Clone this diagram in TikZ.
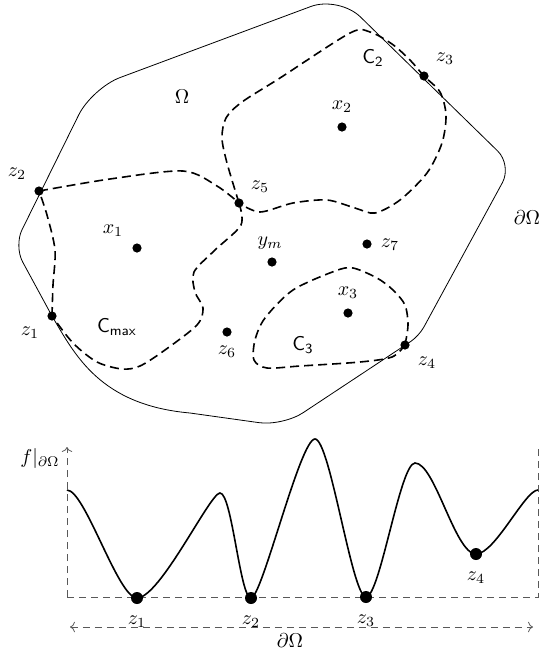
\documentclass[tikz,border=0pt]{standalone}
\usepackage{amsmath}
\usepackage{amssymb}
\usepackage{tikz}
\usetikzlibrary{arrows,arrows.meta,positioning,calc}

\begin{document}
\begin{tikzpicture}[x=0.5pt,y=-0.5pt,
    dot/.style={circle,fill,inner sep=0pt,minimum size=4.6pt},
    bigdot/.style={circle,fill,inner sep=0pt,minimum size=6pt},
    region/.style={thick,dash pattern=on 4.5pt off 2.5pt},
    guide/.style={black!65,dash pattern=on 3.5pt off 2.5pt}]
  \useasboundingbox (0,0) rectangle (543,655);

  % Points of the domain.
  \foreach \name/\x/\y in {
      z1/52/316, z2/39/191, z3/424/76, z4/405/345,
      z5/239/203, z6/227/332, z7/367/244,
      x1/137/248, x2/342/127, x3/348/313, ym/272/262
  }{
      \node[dot] (\name) at (\x,\y) {};
  }

  % Boundary of the domain.
  \draw (z1.center) .. controls (75,355) and (100,405) .. (190,413)
      [rounded corners=12pt] -- (283,426)
      [rounded corners=5pt] -- (419,336)
      [rounded corners=10pt] -- (512,165)
      [rounded corners=15pt] -- (339,-4) -- (92,88)
      [rounded corners=9pt] -- (14,246) -- (z1.center);

  % Basins (dashed).
  \draw[region] plot[smooth] coordinates {(z2.center) (110,179) (183,171)
      (217,186) (z5.center)};
  \draw[region] plot[smooth] coordinates {(z5.center) (241,225) (215,250)
      (194,272) (195,292) (203,308) (197,325) (165,350) (140,366)
      (122,369) (97,362) (73,343) (z1.center)};
  \draw[region] plot[smooth] coordinates {(z1.center) (53,285) (55,250)
      (47,215) (z2.center)};
  \draw[region] plot[smooth] coordinates {(z5.center) (227,163) (222,138)
      (226,118) (242,102) (280,78) (350,33) (370,32) (392,44) (410,60)
      (z3.center) (440,92) (446,115) (442,143) (427,173) (400,200)
      (375,213) (355,208) (327,200) (293,203) (260,212) (z5.center)};
  \draw[region] plot[smooth] coordinates {(z4.center) (408,325) (405,305)
      (393,290) (377,278) (353,268) (335,271) (293,290) (265,318)
      (255,340) (254,360) (267,368) (300,366) (360,362) (392,357)
      (z4.center)};

  % Labels of the domain.
  \foreach \name/\x/\y/\lab in {
      z1/30/333/{z_1}, z2/17/174/{z_2}, z3/445/59/{z_3},
      z4/427/363/{z_4}, z5/260/187/{z_5}, z6/227/352/{z_6},
      z7/390/245/{z_7}, x1/113/231/{x_1}, x2/342/107/{x_2},
      x3/348/293/{x_3}, ym/270/243/{y_m},
      om/182/97/{\Omega}, bd/527/218/{\partial\Omega},
      c2/373/58/{\mathsf{C}_\mathsf{2}},
      cmax/117/327/{\mathsf{C}_\mathsf{max}},
      c3/303/345/{\mathsf{C}_\mathsf{3}}
  }{
      \node (l\name) at (\x,\y) {$\lab$};
  }

  % Restriction of f to the boundary.
  \coordinate (o) at (67,597);
  \coordinate (otop) at (67,447);
  \coordinate (e) at (538,597);
  \coordinate (etop) at (538,448);
  \coordinate (a) at (70,627);
  \coordinate (b) at (533,627);
  \draw[guide,->] (o) -- (otop);
  \draw[guide] (o) -- (e) -- (etop);
  \draw[guide,<->] (a) -- (b);
  \node (lf) at (40,458) {$f|_{\partial\Omega}$};
  \node (lbottom) at (290,641) {$\partial\Omega$};

  \foreach \name/\x/\y/\lab in {
      m1/137/598/{z_1}, m2/251/598/{z_2},
      m3/366/597/{z_3}, m4/476/554/{z_4}
  }{
      \node[bigdot] (\name) at (\x,\y) {};
      \node[below=2pt of \name] (l\name) {$\lab$};
  }

  % Maxima between the minima.
  \coordinate (p1) at (220,493);
  \coordinate (p2) at (315,439);
  \coordinate (p3) at (415,463);
  \draw[thick] (67,490) .. controls (85,490) and (118,598) .. (m1.center)
      .. controls (160,598) and (210,493) .. (p1)
      .. controls (232,493) and (240,598) .. (m2.center)
      .. controls (262,598) and (300,439) .. (p2)
      .. controls (330,439) and (352,597) .. (m3.center)
      .. controls (380,597) and (400,463) .. (p3)
      .. controls (435,463) and (455,554) .. (m4.center)
      .. controls (495,554) and (525,490) .. (538,490);
\end{tikzpicture}
\end{document}
